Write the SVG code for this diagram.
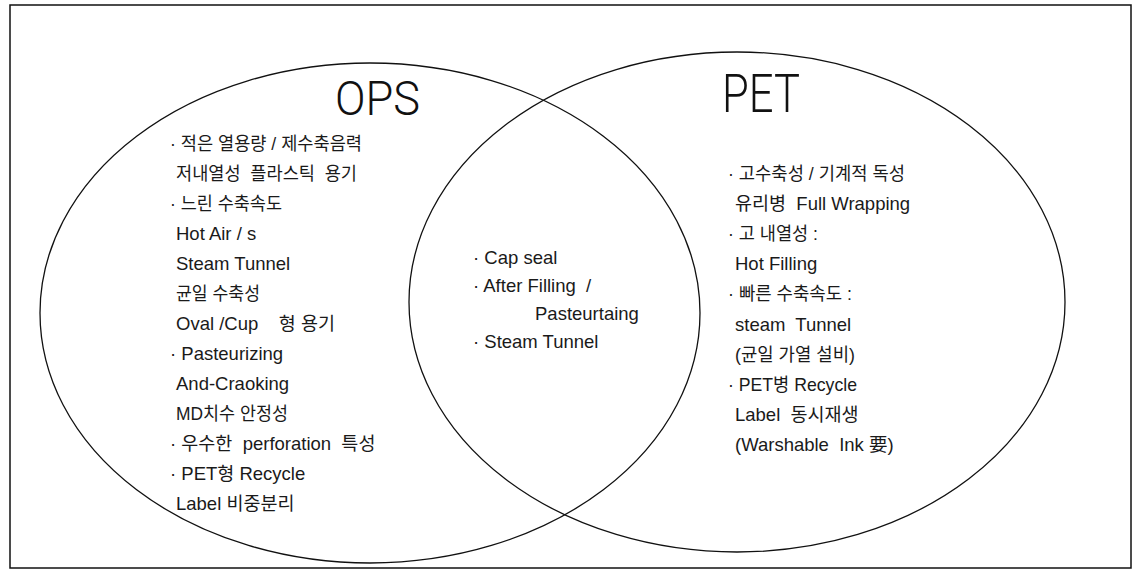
<svg xmlns="http://www.w3.org/2000/svg" width="1135" height="576" viewBox="0 0 1135 576">
<style>
.t{font-family:"Liberation Sans","Noto Sans CJK KR",sans-serif;font-size:18.5px;fill:#1a1a1a;white-space:pre}
.h{font-family:Roboto,"Liberation Sans",sans-serif;font-weight:300;fill:#111}
.e{fill:none;stroke:#111;stroke-width:1.3}
</style>
<rect x="10" y="5" width="1121" height="563" fill="#fff" stroke="#111" stroke-width="1.5"/>
<g id="connectors"></g>
<g id="ops">
<ellipse class="e" cx="370" cy="313" rx="330" ry="250"/>
<text class="h" x="335" y="115" font-size="48" textLength="85" lengthAdjust="spacingAndGlyphs">OPS</text>
<text class="t" x="170" y="150" textLength="192" lengthAdjust="spacingAndGlyphs">· 적은 열용량 / 제수축음력</text>
<text class="t" x="176" y="180" textLength="181" lengthAdjust="spacingAndGlyphs">저내열성  플라스틱  용기</text>
<text class="t" x="170" y="210" textLength="112" lengthAdjust="spacingAndGlyphs">· 느린 수축속도</text>
<text class="t" x="176" y="240">Hot Air / s</text>
<text class="t" x="176" y="270">Steam Tunnel</text>
<text class="t" x="176" y="300" textLength="84" lengthAdjust="spacingAndGlyphs">균일 수축성</text>
<text class="t" x="176" y="330">Oval /Cup    형 용기</text>
<text class="t" x="170" y="360">· Pasteurizing</text>
<text class="t" x="176" y="390">And-Craoking</text>
<text class="t" x="176" y="420" textLength="112" lengthAdjust="spacingAndGlyphs">MD치수 안정성</text>
<text class="t" x="170" y="450">· 우수한  perforation  특성</text>
<text class="t" x="170" y="480">· PET형 Recycle</text>
<text class="t" x="176" y="510">Label 비중분리</text>
</g>
<g id="pet">
<ellipse class="e" cx="737" cy="302" rx="328" ry="250"/>
<text class="h" x="722" y="112" font-size="53" textLength="78" lengthAdjust="spacingAndGlyphs">PET</text>
<text class="t" x="728" y="180" textLength="177" lengthAdjust="spacingAndGlyphs">· 고수축성 / 기계적 독성</text>
<text class="t" x="735" y="210">유리병  Full Wrapping</text>
<text class="t" x="728" y="240" textLength="90" lengthAdjust="spacingAndGlyphs">· 고 내열성 :</text>
<text class="t" x="735" y="270">Hot Filling</text>
<text class="t" x="728" y="300" textLength="124" lengthAdjust="spacingAndGlyphs">· 빠른 수축속도 :</text>
<text class="t" x="735" y="331">steam  Tunnel</text>
<text class="t" x="735" y="361" textLength="120" lengthAdjust="spacingAndGlyphs">(균일 가열 설비)</text>
<text class="t" x="728" y="391" textLength="129" lengthAdjust="spacingAndGlyphs">· PET병 Recycle</text>
<text class="t" x="735" y="421">Label  동시재생</text>
<text class="t" x="735" y="451">(Warshable  Ink 要)</text>
</g>
<g id="common">
<text class="t" x="473" y="264">· Cap seal</text>
<text class="t" x="473" y="292">· After Filling  /</text>
<text class="t" x="535" y="320">Pasteurtaing</text>
<text class="t" x="473" y="348">· Steam Tunnel</text>
</g>
</svg>
